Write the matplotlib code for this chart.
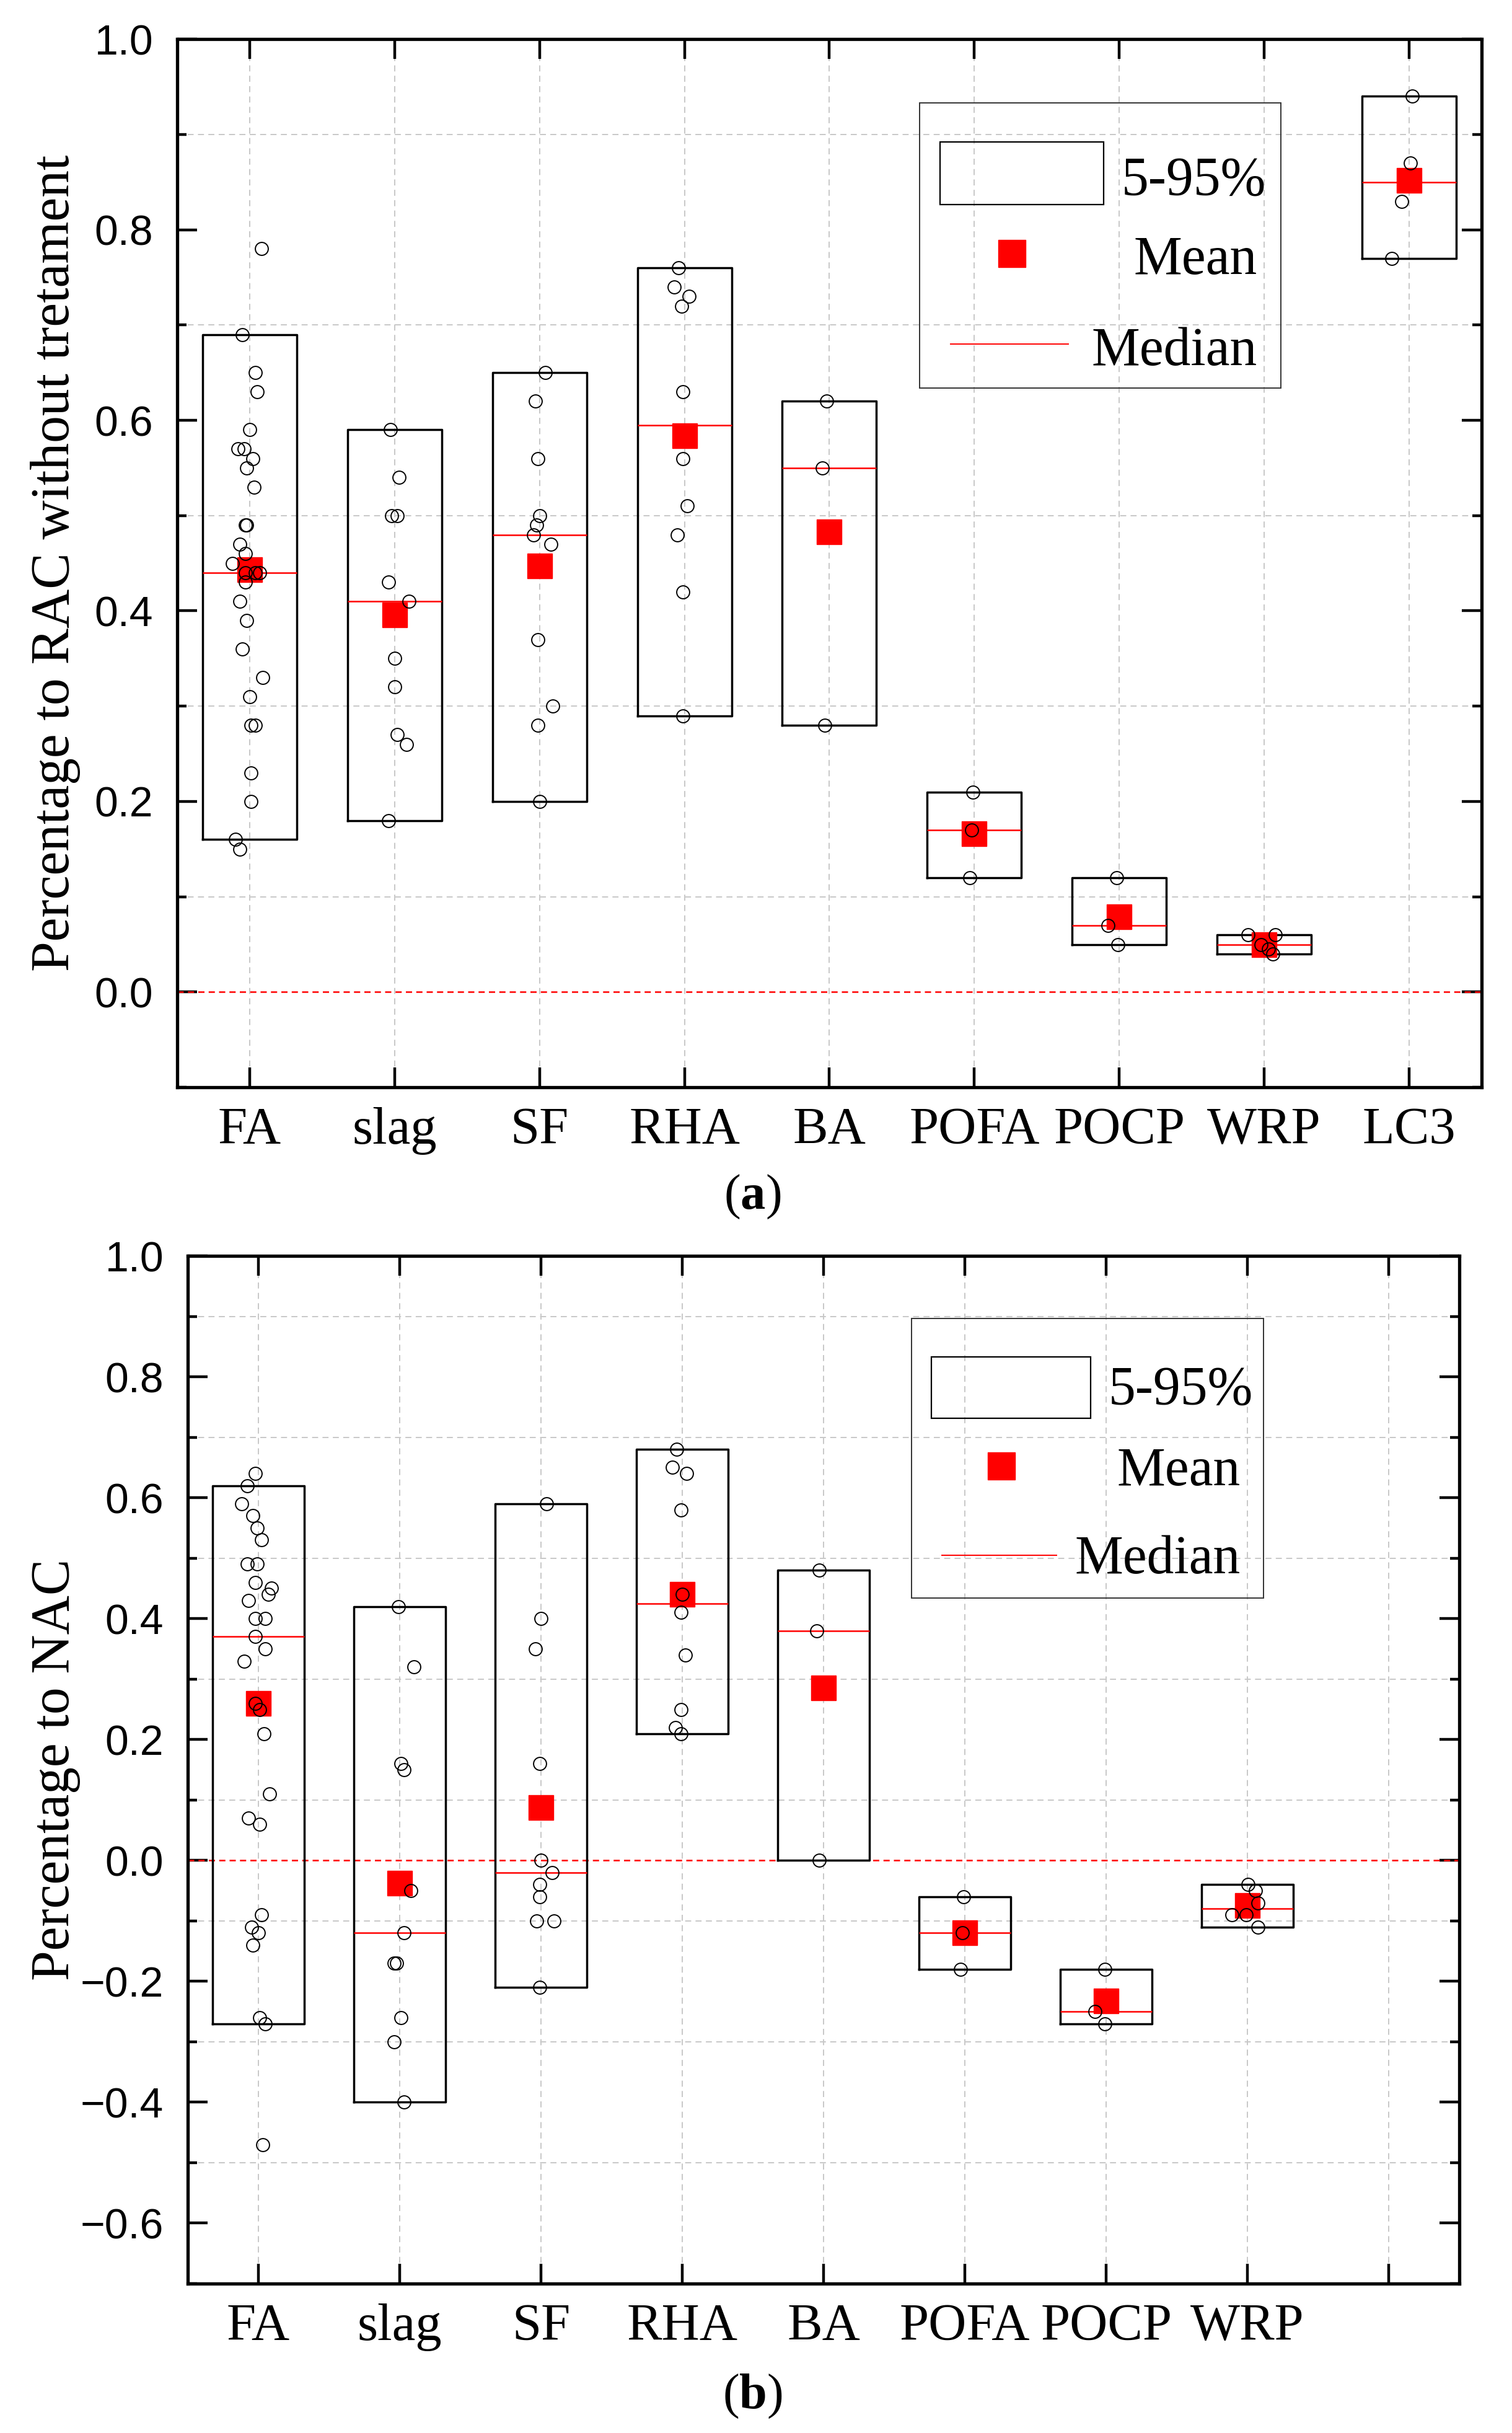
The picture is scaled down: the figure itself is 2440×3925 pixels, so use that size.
import numpy as np
import matplotlib
matplotlib.use('Agg')
import matplotlib.pyplot as plt
from matplotlib.ticker import MultipleLocator, FuncFormatter
from matplotlib.patches import Rectangle

plt.rcParams['font.family'] = ['Liberation Serif', 'DejaVu Serif']
plt.rcParams['mathtext.fontset'] = 'custom'
plt.rcParams['mathtext.rm'] = 'Liberation Serif'
plt.rcParams['mathtext.bf'] = 'Liberation Serif:bold'

# ---------------- Panel (a): percentage to RAC without treatment ----------------
cats_a = ['FA', 'slag', 'SF', 'RHA', 'BA', 'POFA', 'POCP', 'WRP', 'LC3']
fa_a = [0.78, 0.69, 0.65, 0.63, 0.59, 0.57, 0.57, 0.56, 0.55, 0.53, 0.49, 0.49, 0.47, 0.46, 0.45,
        0.44, 0.44, 0.44, 0.43, 0.41, 0.39, 0.36, 0.33, 0.31, 0.28, 0.28, 0.23, 0.20, 0.16, 0.15]
slag_a = [0.59, 0.54, 0.50, 0.50, 0.43, 0.41, 0.35, 0.32, 0.27, 0.26, 0.18]
sf_a = [0.65, 0.62, 0.56, 0.50, 0.49, 0.48, 0.47, 0.37, 0.30, 0.28, 0.20]
rha_a = [0.76, 0.74, 0.73, 0.72, 0.63, 0.56, 0.51, 0.48, 0.42, 0.29]
ba_a = [0.62, 0.55, 0.28]
pofa_a = [0.21, 0.17, 0.12]
pocp_a = [0.12, 0.07, 0.05]
wrp_a = [0.06, 0.06, 0.05, 0.045, 0.04]
lc3_a = [0.94, 0.87, 0.83, 0.77]
lo_a = [0.16, 0.18, 0.20, 0.29, 0.28, 0.12, 0.05, 0.04, 0.77]
hi_a = [0.69, 0.59, 0.65, 0.76, 0.62, 0.21, 0.12, 0.06, 0.94]
median_a = [0.44, 0.41, 0.48, 0.595, 0.55, 0.17, 0.07, 0.05, 0.85]
mean_a = [0.443, 0.396, 0.447, 0.584, 0.483, 0.166, 0.079, 0.05, 0.852]

# ---------------- Panel (b): percentage to NAC ----------------
cats_b = ['FA', 'slag', 'SF', 'RHA', 'BA', 'POFA', 'POCP', 'WRP']
fa_b = [0.64, 0.62, 0.59, 0.57, 0.55, 0.53, 0.49, 0.49, 0.46, 0.45, 0.44, 0.43, 0.40, 0.40, 0.37,
        0.35, 0.33, 0.26, 0.25, 0.21, 0.11, 0.07, 0.06, -0.09, -0.11, -0.12, -0.14, -0.26, -0.27, -0.47]
slag_b = [0.42, 0.32, 0.16, 0.15, -0.05, -0.12, -0.17, -0.17, -0.26, -0.30, -0.40]
sf_b = [0.59, 0.40, 0.35, 0.16, 0.00, -0.02, -0.04, -0.06, -0.10, -0.10, -0.21]
rha_b = [0.68, 0.65, 0.64, 0.58, 0.44, 0.41, 0.34, 0.25, 0.22, 0.21]
ba_b = [0.48, 0.38, 0.00]
pofa_b = [-0.06, -0.12, -0.18]
pocp_b = [-0.18, -0.25, -0.27]
wrp_b = [-0.04, -0.05, -0.07, -0.09, -0.09, -0.11]
lo_b = [-0.27, -0.40, -0.21, 0.21, 0.00, -0.18, -0.27, -0.11]
hi_b = [0.62, 0.42, 0.59, 0.68, 0.48, -0.06, -0.18, -0.04]
median_b = [0.37, -0.12, -0.02, 0.425, 0.38, -0.12, -0.25, -0.08]
mean_b = [0.26, -0.038, 0.088, 0.44, 0.285, -0.12, -0.232, -0.075]

# ---------------- horizontal jitter of the raw points (category units) ----------------
fa_a_dx = [0.08, -0.05, 0.04, 0.05, 0.0, -0.08, -0.04, 0.02, -0.02, 0.03, -0.02, -0.03, -0.07, -0.03, -0.12,
           -0.03, 0.04, 0.07, -0.03, -0.07, -0.02, -0.05, 0.09, 0.0, 0.01, 0.04, 0.01, 0.01, -0.10, -0.07]
slag_a_dx = [-0.03, 0.03, -0.02, 0.02, -0.04, 0.10, 0.0, 0.0, 0.02, 0.08, -0.04]
sf_a_dx = [0.04, -0.03, -0.01, 0.0, -0.02, -0.04, 0.08, -0.01, 0.09, -0.01, 0.0]
rha_a_dx = [-0.04, -0.07, 0.03, -0.02, -0.01, -0.01, 0.02, -0.05, -0.01, -0.01]
ba_a_dx = [-0.02, -0.05, -0.03]
pofa_a_dx = [-0.01, -0.02, -0.03]
pocp_a_dx = [-0.02, -0.08, -0.01]
wrp_a_dx = [-0.11, 0.075, -0.02, 0.03, 0.06]
lc3_a_dx = [0.02, 0.01, -0.05, -0.12]

fa_b_dx = [-0.02, -0.08, -0.12, -0.04, -0.01, 0.02, -0.08, -0.01, -0.02, 0.09, 0.07, -0.07, -0.02, 0.05, -0.02,
           0.05, -0.10, -0.02, 0.01, 0.04, 0.08, -0.07, 0.01, 0.02, -0.05, 0.0, -0.04, 0.01, 0.05, 0.03]
slag_b_dx = [-0.01, 0.10, 0.01, 0.03, 0.08, 0.03, -0.04, -0.02, 0.01, -0.04, 0.03]
sf_b_dx = [0.04, 0.0, -0.04, -0.01, 0.0, 0.08, -0.01, -0.01, -0.03, 0.09, -0.01]
rha_b_dx = [-0.04, -0.07, 0.03, -0.01, 0.0, -0.01, 0.02, -0.01, -0.05, -0.01]
ba_b_dx = [-0.03, -0.05, -0.03]
pofa_b_dx = [-0.01, -0.02, -0.03]
pocp_b_dx = [-0.01, -0.08, -0.01]
wrp_b_dx = [0.005, 0.056, 0.076, -0.11, -0.007, 0.073]

points_a = [fa_a, slag_a, sf_a, rha_a, ba_a, pofa_a, pocp_a, wrp_a, lc3_a]
dx_a = [fa_a_dx, slag_a_dx, sf_a_dx, rha_a_dx, ba_a_dx, pofa_a_dx, pocp_a_dx, wrp_a_dx, lc3_a_dx]
points_b = [fa_b, slag_b, sf_b, rha_b, ba_b, pofa_b, pocp_b, wrp_b]
dx_b = [fa_b_dx, slag_b_dx, sf_b_dx, rha_b_dx, ba_b_dx, pofa_b_dx, pocp_b_dx, wrp_b_dx]

legend_labels = ['5-95%', 'Mean', 'Median']

GRID_C = '#c8c8c8'


def ytick_fmt(v, pos):
    if abs(v) < 1e-9:
        v = 0.0
    return f'{v:.1f}'.replace('-', '\u2212')


def draw_panel(ax, cats, points, dxs, lo, hi, med, mean, ylim, leg_y):
    n = len(cats)
    pos = np.arange(1, n + 1)
    stats = []
    for i in range(n):
        stats.append(dict(med=med[i], q1=lo[i], q3=hi[i], whislo=lo[i], whishi=hi[i],
                          mean=mean[i], fliers=[]))
    ax.bxp(stats, positions=pos, widths=0.65, showmeans=True, showcaps=False,
           showfliers=False, manage_ticks=False,
           boxprops=dict(color='black', lw=2.5),
           whiskerprops=dict(lw=0, linestyle='none'),
           medianprops=dict(color='red', lw=1.8),
           meanprops=dict(marker='s', markerfacecolor='red', markeredgecolor='red',
                          markersize=29, zorder=3))
    for i in range(n):
        ax.plot(pos[i] + np.asarray(dxs[i]), points[i], 'o', mfc='none', mec='black',
                ms=15, mew=1.4, zorder=4)

    ax.axhline(0, color='red', lw=1.8, linestyle=(0, (4, 2.7)), zorder=1.5)

    ax.set_xlim(0.5, 9.5)
    ax.set_ylim(*ylim)
    ax.set_xticks(np.arange(1, 10))
    ax.set_xticklabels(list(cats) + [''] * (9 - n))
    ax.yaxis.set_major_locator(MultipleLocator(0.2))
    ax.yaxis.set_minor_locator(MultipleLocator(0.1))
    ax.yaxis.set_major_formatter(FuncFormatter(ytick_fmt))

    ax.set_axisbelow(True)
    ax.xaxis.grid(True, which='major', color=GRID_C, lw=1.4, linestyle=(0, (5, 3.6)))
    ax.yaxis.grid(True, which='minor', color=GRID_C, lw=1.4, linestyle=(0, (5, 3.6)))
    ax.yaxis.grid(False, which='major')

    ax.tick_params(which='both', direction='in', top=True, right=True, width=3.2)
    ax.tick_params(which='major', length=23)
    ax.tick_params(which='minor', length=11)
    ax.tick_params(axis='x', pad=23, labelsize=61)
    ax.tick_params(axis='y', pad=28, labelsize=49)
    for lab in ax.get_yticklabels():
        lab.set_fontfamily(['Liberation Sans', 'DejaVu Sans'])
    for lab in ax.get_xticklabels():
        lab.set_fontfamily(['Liberation Serif', 'DejaVu Serif'])
    for sp in ax.spines.values():
        sp.set_linewidth(3.8)

    # legend (drawn manually to reproduce the Origin-style layout)
    tr = ax.transAxes
    ax.add_patch(Rectangle((0.569, 0.667), 0.277, 0.272, transform=tr, fill=False,
                           edgecolor='#333333', lw=1.4, zorder=5))
    ax.add_patch(Rectangle((0.585, 0.842), 0.125, 0.060, transform=tr, fill=False,
                           edgecolor='black', lw=1.6, zorder=5))
    ax.plot([0.640], [0.7955], transform=tr, marker='s', ms=32, mfc='red', mec='red',
            ls='none', zorder=5, clip_on=False)
    ax.plot([0.593, 0.683], [0.709, 0.709], transform=tr, color='red', lw=1.4,
            zorder=5, clip_on=False)
    ax.text(0.724, leg_y[0], legend_labels[0], transform=tr, ha='left', va='baseline',
            fontsize=63, zorder=6)
    ax.text(0.828, leg_y[1], legend_labels[1], transform=tr, ha='right', va='baseline',
            fontsize=63, zorder=6)
    ax.text(0.828, leg_y[2], legend_labels[2], transform=tr, ha='right', va='baseline',
            fontsize=63, zorder=6)


fig = plt.figure(figsize=(24.4, 39.25), dpi=100)
ax_a = fig.add_axes([0.1172, 0.5531, 0.8627, 0.4308])
ax_b = fig.add_axes([0.1242, 0.0614, 0.8410, 0.4224])

draw_panel(ax_a, cats_a, points_a, dx_a, lo_a, hi_a, median_a, mean_a, (-0.1, 1.0),
           (0.852, 0.776, 0.689))
draw_panel(ax_b, cats_b, points_b, dx_b, lo_b, hi_b, median_b, mean_b, (-0.7, 1.0),
           (0.856, 0.777, 0.691))

fig.text(90 / 2440, 1 - 908 / 3925, 'Percentage to RAC without tretament', rotation=90,
         ha='center', va='center', fontsize=63)
fig.text(90 / 2440, 1 - 2855 / 3925, 'Percentage to NAC', rotation=90,
         ha='center', va='center', fontsize=63)

fig.text(1214 / 2440, 1 - 1931 / 3925, r'($\mathbf{a}$)', ha='center', va='center', fontsize=58)
fig.text(1214 / 2440, 1 - 3866 / 3925, r'($\mathbf{b}$)', ha='center', va='center', fontsize=58)

fig.savefig('out.png', dpi=100)
